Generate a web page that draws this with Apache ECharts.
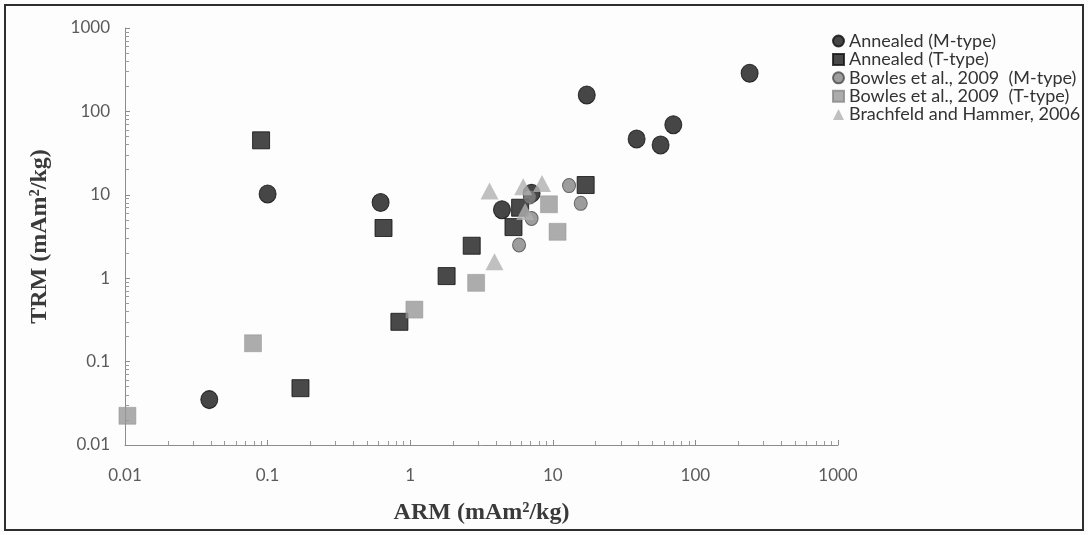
<!DOCTYPE html>
<html>
<head>
<meta charset="utf-8">
<script src="https://cdn.jsdelivr.net/npm/echarts@6/dist/echarts.min.js"></script>
<style>
html,body{margin:0;padding:0;background:#fff;}
#chart{width:1088px;height:535px;}
</style>
</head>
<body>
<div id="chart"></div>
<script>
// ---- data (ARM, TRM) in mAm^2/kg ----
const annealedM = [[0.039,0.035],[0.1,10.2],[0.62,8.1],[4.4,6.6],[7.1,10.4],[17.3,157],[38.7,46.7],[57,39.6],[70,69],[240,286]];
const annealedT = [[0.09,45],[0.17,0.048],[0.65,4.0],[0.84,0.3],[1.8,1.06],[2.7,2.45],[5.3,4.1],[5.9,7.0],[17,13.1]];
const bowlesM = [[5.8,2.5],[7.1,5.2],[13,12.9],[15.7,7.9],[6.9,9.4]];
const bowlesT = [[0.0104,0.0224],[0.079,0.166],[1.07,0.42],[2.9,0.88],[9.4,7.7],[10.8,3.6]];
const brachfeld = [[3.6,11.1],[3.9,1.58],[6.2,12.5],[8.4,13.7],[6.4,6.3]];
const seriesNames = ['Annealed (M-type)','Annealed (T-type)','Bowles et al., 2009  (M-type)','Bowles et al., 2009  (T-type)','Brachfeld and Hammer, 2006'];
const xTitle = 'ARM (mAm²/kg)';
const yTitle = 'TRM (mAm²/kg)';

const chart = echarts.init(document.getElementById('chart'));
const labelFont = {fontFamily:'Lato, "Open Sans", sans-serif', fontSize:17, color:'#5a5a5a'};
const titleFont = {fontFamily:'"Liberation Serif", "DejaVu Serif", serif', fontSize:24, fontWeight:'bold', color:'#3a3a3a'};
const axisCommon = {
  type:'log', logBase:10, min:0.01, max:1000,
  axisLine:{show:true, lineStyle:{color:'#8c8c8c', width:1}},
  axisTick:{show:true, inside:true, length:5, lineStyle:{color:'#8c8c8c'}},
  minorTick:{show:true, splitNumber:9, length:4, lineStyle:{color:'#9a9a9a'}},
  splitLine:{show:false},
  minorSplitLine:{show:false},
  axisLabel:Object.assign({}, labelFont, {formatter:v=>String(+v.toPrecision(3))}),
  nameLocation:'middle',
  nameTextStyle:titleFont
};
chart.setOption({
  backgroundColor:'#fdfdfd',
  animation:false,
  grid:{left:125, top:28, right:250, bottom:90, containLabel:false},
  xAxis:Object.assign({}, axisCommon, {name:xTitle, nameGap:56, axisLabel:Object.assign({}, axisCommon.axisLabel, {margin:22})}),
  yAxis:Object.assign({}, axisCommon, {name:yTitle, nameGap:73, nameRotate:90, axisLabel:Object.assign({}, axisCommon.axisLabel, {margin:15})}),
  legend:{
    orient:'vertical', left:827, top:27, itemGap:0.4, itemWidth:11, itemHeight:11,
    textStyle:{fontFamily:'Lato, "Open Sans", sans-serif', fontSize:18, lineHeight:18, color:'#333'},
    data:seriesNames
  },
  graphic:[{type:'rect', shape:{x:5, y:5, width:1078, height:525}, style:{fill:'none', stroke:'#2e2e2e', lineWidth:2}, silent:true}],
  series:[
    {name:seriesNames[0], type:'scatter', data:annealedM, symbol:'circle', symbolSize:[17,18],
     itemStyle:{color:'#181818', borderColor:'#0e0e0e', borderWidth:1}},
    {name:seriesNames[1], type:'scatter', data:annealedT, symbol:'rect', symbolSize:17,
     itemStyle:{color:'#1c1c1c', borderColor:'#111', borderWidth:1}},
    {name:seriesNames[2], type:'scatter', data:bowlesM, symbol:'circle', symbolSize:[13,14],
     itemStyle:{color:'#858585', borderColor:'#4a4a4a', borderWidth:1}},
    {name:seriesNames[3], type:'scatter', data:bowlesT, symbol:'rect', symbolSize:17,
     itemStyle:{color:'#979797', borderColor:'#888', borderWidth:0.5}},
    {name:seriesNames[4], type:'scatter', data:brachfeld, symbol:'triangle', symbolSize:[18,17],
     itemStyle:{color:'#b0b0b0'}}
  ]
});
</script>
</body>
</html>
